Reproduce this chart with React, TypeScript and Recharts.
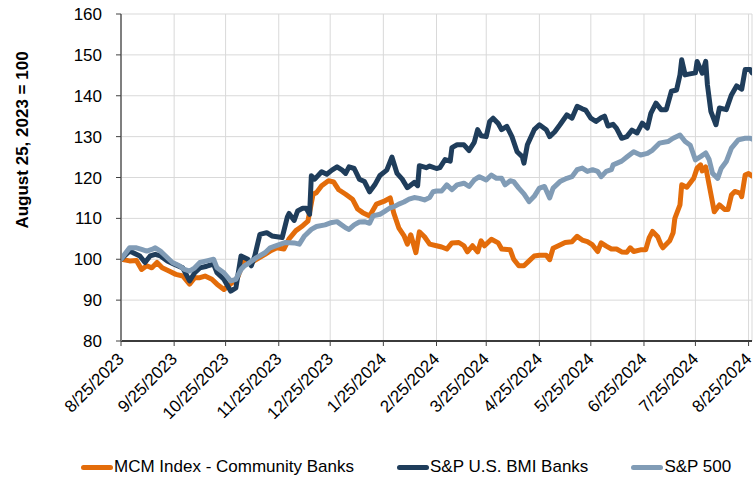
import React from "react";
import {
  CartesianGrid,
  Legend,
  Line,
  LineChart,
  XAxis,
  YAxis,
} from "recharts";

const FONT = '"Liberation Sans", Arial, sans-serif';

// month ticks, every 25th
const tickLabels = [
  "8/25/2023",
  "9/25/2023",
  "10/25/2023",
  "11/25/2023",
  "12/25/2023",
  "1/25/2024",
  "2/25/2024",
  "3/25/2024",
  "4/25/2024",
  "5/25/2024",
  "6/25/2024",
  "7/25/2024",
  "8/25/2024",
];

const yTicks = [80, 90, 100, 110, 120, 130, 140, 150, 160];

// [days since 8/25/2023, index value]
const mcmIndex: [number, number][] = [
  [0, 100], [5, 99.6], [9, 99.7], [12, 97.5], [15, 98.4], [18, 97.9], [21, 99.2],
  [24, 97.9], [28, 97.1], [32, 96.3], [36, 95.9], [40, 93.9], [43, 95.5], [46, 95.5],
  [49, 95.9], [53, 95.1], [56, 93.9], [60, 92.6], [64, 94], [68, 95.5], [72, 100],
  [75, 99], [79, 100], [84, 101.2], [87, 102], [91, 102.8], [95, 102.5], [98, 105],
  [102, 107], [106, 108.2], [109, 109.3], [112, 115.9], [114, 116.3], [117, 118],
  [121, 119.2], [124, 118.9], [127, 117], [131, 115.9], [135, 114.7], [138, 112.3],
  [141, 111.4], [145, 110.6], [149, 113.5], [154, 114.3], [157, 115], [159, 111.4],
  [162, 107.7], [165, 105.8], [167, 103.7], [169, 106], [172, 101.6], [174, 106.7],
  [177, 105.5], [180, 103.7], [184, 103.3], [187, 103], [190, 102.5], [193, 104],
  [197, 104.1], [200, 103.3], [202, 101.8], [205, 103.3], [208, 101.8], [210, 104.5],
  [212, 103.3], [216, 104.9], [220, 104], [222, 102.5], [227, 102.3], [229, 100],
  [232, 98.4], [235, 98.4], [238, 99.6], [241, 100.8], [244, 101], [248, 101],
  [250, 99.9], [252, 102.7], [256, 103.5], [259, 104.1], [263, 104.3], [266, 105.6],
  [269, 104.7], [272, 104.3], [275, 103.5], [278, 101.9], [280, 104], [283, 103.2],
  [286, 102.5], [289, 102.5], [292, 101.8], [295, 101.7], [297, 102.8], [299, 101.9],
  [303, 102.3], [306, 102.3], [308, 105.2], [310, 106.8], [313, 105.5], [315, 103.5],
  [316, 102.8], [320, 104.5], [322, 106.5], [323, 110], [326, 113.3], [327, 118.2],
  [330, 117.6], [334, 119.8], [336, 122.3], [338, 123.1], [339, 121.6], [341, 122.6],
  [343, 118.2], [346, 111.6], [349, 113.3], [352, 112.2], [354, 112.2], [356, 115.7],
  [358, 116.6], [361, 116.2], [362, 115.3], [364, 120.6], [366, 121], [368, 120.4],
];

const bmiBanks: [number, number][] = [
  [0, 100], [5, 102], [11, 100.8], [14, 99.2], [17, 100.8], [20, 101.2], [23, 100.8],
  [27, 99.6], [31, 98.8], [36, 97.9], [40, 94.7], [43, 96.7], [46, 97.9], [50, 98.3],
  [54, 98.8], [56, 96.7], [60, 95.1], [64, 92.2], [67, 93], [70, 100.8], [74, 100],
  [76, 98.4], [78, 100.8], [81, 106.1], [85, 106.5], [88, 105.7], [91, 105.5],
  [94, 105.3], [97, 110.3], [98, 111.2], [101, 109.5], [103, 111.8], [106, 112.5],
  [108, 112.5], [110, 111], [111, 120.4], [113, 119.6], [117, 121.4], [120, 120.8],
  [123, 121.8], [126, 122.6], [129, 121.8], [131, 121], [133, 122.6], [136, 122.2],
  [139, 119.6], [142, 119], [145, 116.5], [148, 118.2], [151, 120.5], [155, 121.8],
  [158, 125], [161, 121], [164, 119.6], [167, 117.5], [171, 118.8], [173, 118],
  [174, 122.9], [178, 122.4], [180, 122.8], [184, 122.2], [186, 122.4], [189, 124.4],
  [192, 124], [193, 127.3], [196, 128], [200, 128], [203, 126.6], [206, 128.6],
  [208, 131.7], [210, 130.2], [213, 130], [215, 133.7], [217, 134.5], [220, 133.2],
  [222, 131.7], [225, 132.5], [228, 130], [231, 126.3], [234, 125.1], [235, 123.5],
  [237, 128], [241, 131.7], [244, 132.9], [248, 131.7], [250, 130], [253, 131.2],
  [256, 132.9], [260, 135.3], [263, 134.5], [266, 137.4], [269, 136.8], [271, 136.5],
  [274, 134.5], [277, 133.7], [280, 134.6], [282, 135], [284, 132.6], [287, 133],
  [289, 132], [292, 129.6], [295, 130], [298, 131.6], [301, 130.9], [304, 133.3],
  [307, 132.1], [309, 135.7], [312, 138.2], [315, 136.6], [318, 136.6], [321, 141.1],
  [324, 141.4], [326, 145.1], [327, 148.8], [329, 145.1], [331, 145.3], [335, 145.6],
  [336, 148.4], [339, 145.5], [341, 148.4], [342, 142.7], [344, 136.2], [347, 132.9],
  [349, 137], [353, 136.6], [356, 140.2], [359, 142.4], [362, 141.6], [364, 146.4],
  [367, 146.4], [368, 145.6],
];

const sp500: [number, number][] = [
  [0, 100], [5, 102.8], [9, 102.8], [12, 102.4], [15, 102], [18, 102.4], [20, 102.8],
  [23, 102], [26, 100.8], [30, 99.2], [34, 98.4], [37, 97.5], [40, 97.1], [43, 97.9],
  [46, 99.2], [50, 99.6], [54, 100], [56, 97.9], [60, 96.7], [64, 94.7], [67, 95.1],
  [70, 97.5], [72, 98.4], [75, 99.2], [79, 100.4], [84, 101.6], [87, 102.8],
  [91, 103.4], [96, 104.1], [101, 104], [104, 103.7], [107, 105.7], [111, 107.3],
  [114, 108], [119, 108.4], [123, 109], [126, 109.2], [128, 108.6], [131, 107.7],
  [133, 107.3], [136, 108.4], [139, 109.1], [142, 109.2], [145, 108.8], [147, 110.6],
  [151, 111], [154, 111.8], [157, 112.6], [159, 112.8], [162, 113.5], [165, 114],
  [168, 114.7], [171, 115.1], [174, 114.9], [177, 114.5], [180, 115.1], [182, 116.5],
  [184, 116.7], [187, 116.7], [190, 118.2], [193, 117], [196, 118.2], [200, 118.6],
  [203, 117.8], [206, 119.4], [209, 120.2], [213, 119.4], [216, 120.6], [219, 119.8],
  [222, 119.8], [224, 118.2], [227, 119.2], [229, 119], [232, 117.4], [235, 116],
  [238, 114.1], [241, 115.4], [244, 117.4], [247, 117.8], [250, 115], [252, 117.4],
  [256, 119], [260, 119.8], [263, 120.2], [266, 121.9], [269, 122.3], [272, 121.5],
  [275, 121.9], [278, 121.5], [280, 120.2], [283, 121.5], [286, 121.9], [287, 123.1],
  [292, 124], [295, 125], [299, 126.3], [303, 125.5], [307, 125.9], [310, 126.7],
  [314, 128.4], [319, 128.8], [322, 129.6], [326, 130.4], [329, 128.8], [332, 127.9],
  [335, 124.3], [338, 125.1], [341, 126], [343, 124.4], [345, 121], [348, 119.8],
  [350, 122.2], [353, 123.9], [356, 127.2], [360, 129.2], [364, 129.6], [367, 129.6],
  [368, 129.4],
];

const dayOf = (label: string) => {
  const [m, d, y] = label.split("/").map(Number);
  return Math.round((Date.UTC(y, m - 1, d) - Date.UTC(2023, 7, 25)) / 86400000);
};
const tickDays = tickLabels.map(dayOf);

const toPoints = (rows: [number, number][]) =>
  rows.map(([day, value]) => ({ day, value }));

const series = [
  { name: "MCM Index - Community Banks", color: "#E36C0A", rows: mcmIndex },
  { name: "S&P U.S. BMI Banks", color: "#1F3D5B", rows: bmiBanks },
  { name: "S&P 500", color: "#819CB6", rows: sp500 },
];

function DateTick({ x, y, payload }: any) {
  const label = tickLabels[tickDays.indexOf(payload.value)];
  return (
    <g transform={`translate(${x + 4},${y + 12})`}>
      <text
        textAnchor="end"
        transform="rotate(-45)"
        fontSize={17}
        fontFamily={FONT}
        fill="#000"
      >
        {label}
      </text>
    </g>
  );
}

function renderLegend() {
  return (
    <div
      style={{
        display: "flex",
        alignItems: "center",
        fontFamily: FONT,
        fontSize: 17,
        lineHeight: "22px",
        color: "#000",
        whiteSpace: "nowrap",
      }}
    >
      {series.map((s) => (
        <div
          key={s.name}
          style={{ display: "flex", alignItems: "center", marginRight: 43 }}
        >
          <span
            style={{
              width: 32,
              height: 5,
              borderRadius: 3,
              background: s.color,
              marginRight: 1,
            }}
          />
          <span>{s.name}</span>
        </div>
      ))}
    </div>
  );
}

export default function App() {
  return (
    <div style={{ width: 754, height: 479, background: "#fff" }}>
      <style>{`body { margin: 0; }`}</style>
      <LineChart
        width={754}
        height={479}
        margin={{ top: 14, right: 2, left: 0, bottom: 0 }}
      >
        <CartesianGrid stroke="#d9d9d9" strokeWidth={1} />
        <XAxis
          type="number"
          dataKey="day"
          domain={[0, 368]}
          ticks={tickDays}
          interval={0}
          height={138}
          tick={<DateTick />}
          tickSize={5}
          tickLine={{ stroke: "#404040" }}
          axisLine={{ stroke: "#000", strokeWidth: 1.5 }}
          allowDataOverflow
        />
        <YAxis
          type="number"
          domain={[80, 160]}
          ticks={yTicks}
          interval={0}
          width={121}
          tickSize={5}
          tickMargin={14}
          tickLine={{ stroke: "#404040" }}
          axisLine={{ stroke: "#7f7f7f", strokeWidth: 2 }}
          tick={{ fontSize: 17, fill: "#000", fontFamily: FONT }}
          label={{
            content: () => (
              <text
                x={28}
                y={140}
                transform="rotate(-90 28 140)"
                textAnchor="middle"
                fontSize={17}
                fontWeight="bold"
                fontFamily={FONT}
                fill="#000"
              >
                August 25, 2023 = 100
              </text>
            ),
          }}
        />
        {series.map((s) => (
          <Line
            key={s.name}
            data={toPoints(s.rows)}
            dataKey="value"
            name={s.name}
            type="linear"
            stroke={s.color}
            strokeWidth={5}
            strokeLinejoin="round"
            strokeLinecap="round"
            dot={false}
            activeDot={false}
            isAnimationActive={false}
          />
        ))}
        <Legend
          layout="horizontal"
          verticalAlign="middle"
          align="center"
          wrapperStyle={{ top: 456, left: 81, width: 673 }}
          content={renderLegend}
        />
      </LineChart>
    </div>
  );
}
